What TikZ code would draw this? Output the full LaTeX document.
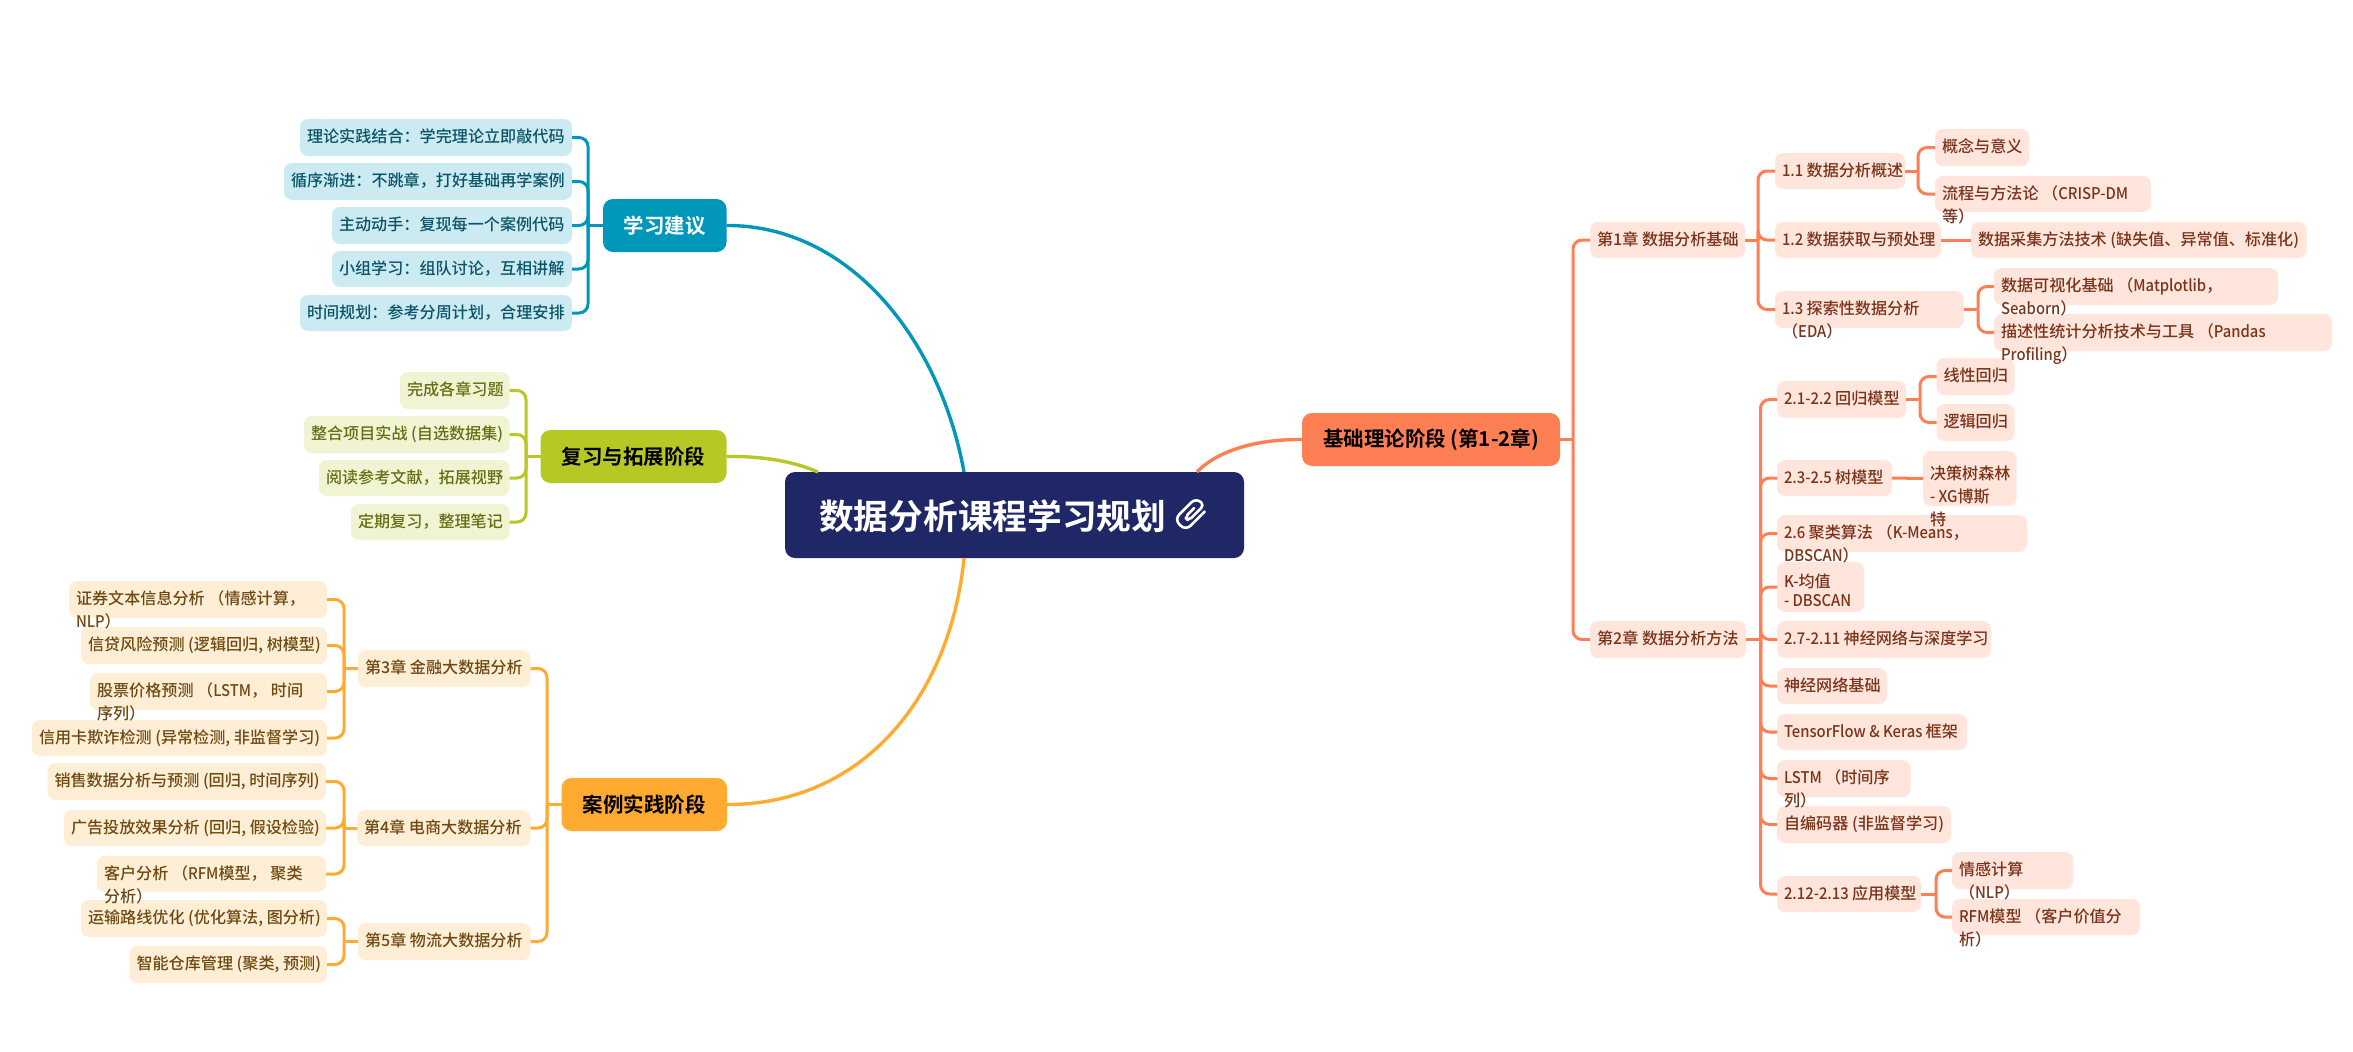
\documentclass[tikz,border=0pt]{standalone}
\usepackage{fontspec}
\setmainfont{Noto Sans CJK SC Medium}[BoldFont={Noto Sans CJK SC Bold}]
\newfontfamily\latfont{Noto Sans CJK SC Medium}[FakeStretch=0.92]
\newcommand{\lat}[1]{{\latfont #1}}
\usetikzlibrary{calc}
\definecolor{cblue}{HTML}{0097BA}\definecolor{lblue}{HTML}{CCEAF2}\definecolor{tblue}{HTML}{0A5468}
\definecolor{cgreen}{HTML}{B7C824}\definecolor{lgreen}{HTML}{F1F4D3}\definecolor{tgreen}{HTML}{666E14}
\definecolor{corange}{HTML}{FFAB32}\definecolor{lorange}{HTML}{FFEED6}\definecolor{torange}{HTML}{6E4A12}
\definecolor{ccoral}{HTML}{FF7F54}\definecolor{lcoral}{HTML}{FFE5DC}\definecolor{tcoral}{HTML}{7A3419}
\definecolor{cnavy}{HTML}{1F2766}
\tikzset{
 leafbox/.style={rounded corners=8pt,inner sep=0pt,outer sep=0pt,font=\fontsize{16.1}{23}\selectfont},
 lblue/.style={leafbox,fill=lblue,text=tblue},
 lgreen/.style={leafbox,fill=lgreen,text=tgreen},
 lorange/.style={leafbox,fill=lorange,text=torange},
 lcoral/.style={leafbox,fill=lcoral,text=tcoral},
 mainbox/.style={rounded corners=10pt,inner sep=0pt,outer sep=0pt,font=\fontsize{20.5}{24}\selectfont\bfseries},
 stub/.style={line width=3pt},
 link/.style={line width=3pt,rounded corners=9pt},
 curve/.style={line width=3.4pt},
}
\newcommand{\boxtext}[3]{\makebox[#1pt][l]{\hspace{7pt}\raisebox{\dimexpr-0.36em-4.5pt-#2pt\relax}{\smash{\parbox[t]{600pt}{#3}}}}}
\newcommand{\bx}[8][0]{% offset, name, style, x1,y1,x2,y2, text
 \pgfmathsetmacro\bw{#6-#4}\pgfmathsetmacro\bh{#7-#5}%
 \node[#3,minimum width=\bw pt,minimum height=\bh pt] (#2) at ({(#4+#6)/2},{(#5+#7)/2}) {\boxtext{\bw}{#1}{#8}};}
\newcommand{\mb}[7]{% name, fill, textcolor, x1,y1,x2,y2 then the node text
 \pgfmathsetmacro\bw{#6-#4}\pgfmathsetmacro\bh{#7-#5}%
 \node[mainbox,fill=#2,text=#3,minimum width=\bw pt,minimum height=\bh pt] (#1) at ({(#4+#6)/2},{(#5+#7)/2})}
% connector: straight stub from parent to spine, rounded turn from spine to child
\newcommand{\lk}[4]{\draw[stub,#4] (#1) -- (#3 |- #1);\draw[link,#4] (#3 |- #1) -- (#3 |- #2) -- (#2);}
\begin{document}
\begin{tikzpicture}[x=1pt,y=-1pt]
\useasboundingbox[fill=white] (0,0) rectangle (2353,1052);
% central
\node[fill=cnavy,rounded corners=10pt,inner sep=0pt,outer sep=0pt,minimum width=459pt,minimum height=86pt] (root) at (1014.5,515) {};
\node[text=white,inner sep=0pt,anchor=west,font=\fontsize{34.7}{40}\selectfont\bfseries] (rootlabel) at (819,516) {数据分析课程学习规划};
% paper clip
\coordinate (clipc) at (1192,513);
\begin{scope}[shift={(clipc)},x={(0.7071pt,0.7071pt)},y={(0.7071pt,-0.7071pt)}]
\draw[white,line width=2.6pt,line cap=round,line join=round]
 (10,8) [rounded corners=7pt] -- (-17,8) -- (-17,-8) -- (14,-8) [rounded corners=4pt] -- (14,3) -- (-8,3) -- (-8,-2) -- (5,-2);
\end{scope}
% main
\mb{m1}{ccoral}{black}{1302}{413}{1560}{466} {基础理论阶段 (第1-2章)};
\mb{m2}{cblue}{white}{603}{199}{726.5}{252} {学习建议};
\mb{m3}{cgreen}{black}{540.5}{430}{726.5}{483} {复习与拓展阶段};
\mb{m4}{corange}{black}{561.5}{778}{727}{831} {案例实践阶段};
\draw[curve,ccoral] (m1.west) .. controls (1258,439) and (1218,450) .. ($(root.north west)+(412,0)$);
\draw[curve,cblue] (m2.east) .. controls (850,225) and (940,340) .. ($(root.north west)+(179,0)$);
\draw[curve,cgreen] (m3.east) .. controls (765,456) and (795,462) .. ($(root.north west)+(33,0)$);
\draw[curve,corange] (m4.east) .. controls (860,805) and (950,700) .. ($(root.south west)+(179,0)$);
% coral
\bx{c1}{lcoral}{1590}{222}{1745}{258}{第1章 数据分析基础}
\bx{c2}{lcoral}{1590}{621}{1746}{658}{第2章 数据分析方法}
\bx{s11}{lcoral}{1775}{153}{1905}{189}{\lat{1.1 }数据分析概述}
\bx{s12}{lcoral}{1775}{222}{1941}{258}{\lat{1.2 }数据获取与预处理}
\bx{s13}{lcoral}{1775}{291}{1963.5}{328}{\lat{1.3 }探索性数据分析\\（\lat{EDA}）}
\bx{p1}{lcoral}{1935}{129}{2029}{166}{概念与意义}
\bx{p2}{lcoral}{1935}{176}{2151}{212}{流程与方法论 （\lat{CRISP-DM}\\等）}
\bx{p3}{lcoral}{1971}{222}{2306.5}{258}{数据采集方法技术 (缺失值、异常值、标准化)}
\bx{q1}{lcoral}{1936.5}{358}{2014.6}{395}{线性回归}
\bx{p5}{lcoral}{1994}{314}{2332}{351}{描述性统计分析技术与工具 （\lat{Pandas}\\\lat{Profiling}）}
\bx{p4}{lcoral}{1994}{268}{2278}{305}{数据可视化基础 （\lat{Matplotlib}，\\\lat{Seaborn}）}
\bx{s21}{lcoral}{1777}{381}{1906}{418}{\lat{2.1-2.2 }回归模型}
\bx{q2}{lcoral}{1936.5}{404}{2014.6}{441}{逻辑回归}
\bx{s22}{lcoral}{1777}{460}{1892}{496}{\lat{2.3-2.5 }树模型}
\bx[-9.5]{s24}{lcoral}{1777}{562}{1864}{612}{\lat{K-}均值\\[-4pt]\lat{- DBSCAN}}
\bx{s23}{lcoral}{1777}{515}{2027}{552}{\lat{2.6 }聚类算法 （\lat{K-Means}，\\\lat{DBSCAN}）}
\bx[-8.5]{q3}{lcoral}{1923}{451}{2016.5}{506}{决策树森林\\\lat{- XG}博斯\\特}
\bx{s25}{lcoral}{1777}{621}{1991}{658}{\lat{2.7-2.11 }神经网络与深度学习}
\bx{s26}{lcoral}{1777}{668}{1887}{704}{神经网络基础}
\bx{s27}{lcoral}{1777}{714}{1967}{750}{\lat{TensorFlow \& Keras }框架}
\bx{s29}{lcoral}{1777}{806}{1951}{843}{自编码器 (非监督学习)}
\bx{s28}{lcoral}{1777}{760}{1910.5}{797}{\lat{LSTM }（时间序\\列）}
\bx{s210}{lcoral}{1777}{876}{1921}{912}{\lat{2.12-2.13 }应用模型}
\bx{q5}{lcoral}{1952}{899}{2140}{935}{\lat{RFM}模型 （客户价值分\\析）}
\bx{q4}{lcoral}{1952}{852}{2073}{889}{情感计算\\（\lat{NLP}）}
\coordinate (sp0) at (1573,0);\coordinate (sp1) at (1758,0);\coordinate (sp2) at (1760.5,0);
\coordinate (sp11) at (1918,0);\coordinate (sp13) at (1978,0);\coordinate (sp21) at (1920,0);\coordinate (sp210) at (1936,0);
\lk{m1.east}{c1.west}{sp0}{ccoral}\lk{m1.east}{c2.west}{sp0}{ccoral}
\lk{c1.east}{s11.west}{sp1}{ccoral}\lk{c1.east}{s12.west}{sp1}{ccoral}\lk{c1.east}{s13.west}{sp1}{ccoral}
\lk{s11.east}{p1.west}{sp11}{ccoral}\lk{s11.east}{p2.west}{sp11}{ccoral}
\draw[stub,ccoral] (s12.east) -- (p3.west);
\lk{s13.east}{p4.west}{sp13}{ccoral}\lk{s13.east}{p5.west}{sp13}{ccoral}
\foreach \n in {s21,s22,s23,s24,s25,s26,s27,s28,s29,s210}{\lk{c2.east}{\n.west}{sp2}{ccoral}}
\lk{s21.east}{q1.west}{sp21}{ccoral}\lk{s21.east}{q2.west}{sp21}{ccoral}
\draw[stub,ccoral] (s22.east) -- (q3.west);
\lk{s210.east}{q4.west}{sp210}{ccoral}\lk{s210.east}{q5.west}{sp210}{ccoral}
% blue
\bx{b1}{lblue}{300}{119}{572}{156}{理论实践结合：学完理论立即敲代码}
\bx{b2}{lblue}{284}{163}{572}{200}{循序渐进：不跳章，打好基础再学案例}
\bx{b3}{lblue}{332}{207}{572}{244}{主动动手：复现每一个案例代码}
\bx{b4}{lblue}{332}{251}{572}{287}{小组学习：组队讨论，互相讲解}
\bx{b5}{lblue}{300}{295}{572}{331}{时间规划：参考分周计划，合理安排}
\coordinate (spb) at (588,0);
\foreach \n in {b1,b2,b3,b4,b5}{\lk{m2.west}{\n.east}{spb}{cblue}}
% green
\bx{g1}{lgreen}{400}{372}{509.6}{409}{完成各章习题}
\bx{g2}{lgreen}{304}{416}{509.6}{453}{整合项目实战 (自选数据集)}
\bx{g3}{lgreen}{319}{460}{509.6}{496}{阅读参考文献，拓展视野}
\bx{g4}{lgreen}{351}{504}{509.6}{540}{定期复习，整理笔记}
\coordinate (spg) at (526,0);
\foreach \n in {g1,g2,g3,g4}{\lk{m3.west}{\n.east}{spg}{cgreen}}
% orange
\bx{o3}{lorange}{358}{650}{530.5}{687}{第3章 金融大数据分析}
\bx{o4}{lorange}{357}{810}{530.5}{846}{第4章 电商大数据分析}
\bx{o5}{lorange}{358}{923}{530.5}{960}{第5章 物流大数据分析}
\bx{a2}{lorange}{81}{627}{327}{664}{信贷风险预测 (逻辑回归, 树模型)}
\bx{a1}{lorange}{69}{581}{327}{618}{证券文本信息分析 （情感计算，\\\lat{NLP}）}
\bx{a4}{lorange}{32}{720}{327}{756}{信用卡欺诈检测 (异常检测, 非监督学习)}
\bx{a3}{lorange}{90}{673}{327}{710}{股票价格预测 （\lat{LSTM}， 时间\\序列）}
\bx{a5}{lorange}{47.5}{763}{326}{800}{销售数据分析与预测 (回归, 时间序列)}
\bx{a6}{lorange}{64}{810}{326}{846}{广告投放效果分析 (回归, 假设检验)}
\bx{a8}{lorange}{81}{900}{327}{937}{运输路线优化 (优化算法, 图分析)}
\bx{a7}{lorange}{97}{856}{326}{892}{客户分析 （\lat{RFM}模型， 聚类\\分析）}
\bx{a9}{lorange}{129.5}{946}{327}{983}{智能仓库管理 (聚类, 预测)}
\coordinate (spm) at (547,0);\coordinate (sp3) at (344,0);
\foreach \n in {o3,o4,o5}{\lk{m4.west}{\n.east}{spm}{corange}}
\foreach \n in {a1,a2,a3,a4}{\lk{o3.west}{\n.east}{sp3}{corange}}
\foreach \n in {a5,a6,a7}{\lk{o4.west}{\n.east}{sp3}{corange}}
\foreach \n in {a8,a9}{\lk{o5.west}{\n.east}{sp3}{corange}}
\end{tikzpicture}
\end{document}
